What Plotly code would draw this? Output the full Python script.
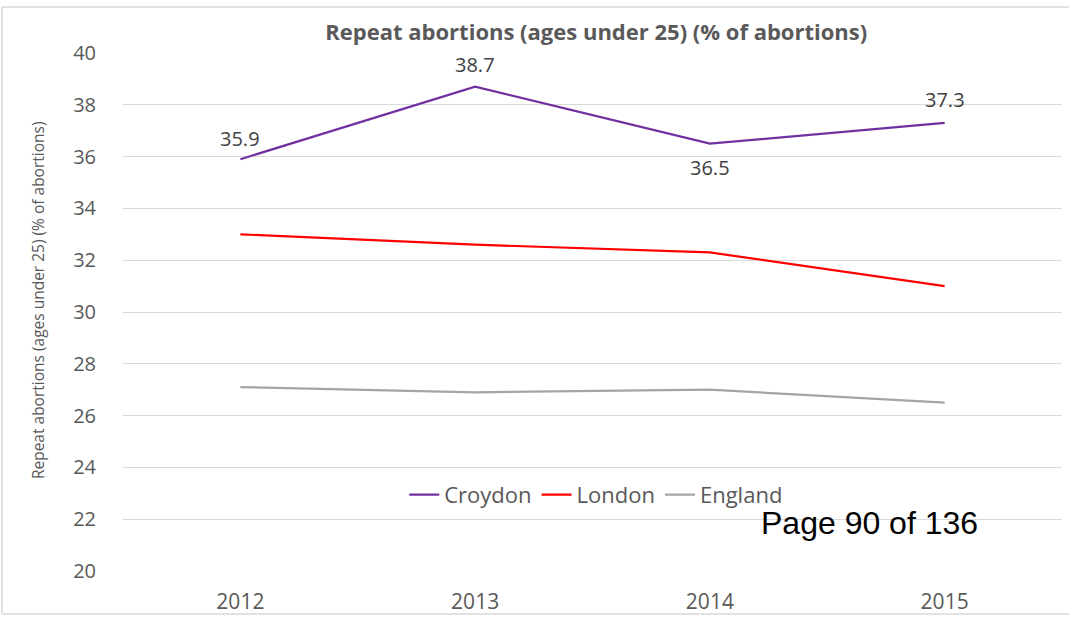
import plotly.graph_objects as go

years = [2012, 2013, 2014, 2015]
year_labels = ["2012", "2013", "2014", "2015"]
croydon = [35.9, 38.7, 36.5, 37.3]
london = [33.0, 32.6, 32.3, 31.0]
england = [27.1, 26.9, 27.0, 26.5]
croydon_label_shift = [21, 22, -24, 23]

fig = go.Figure()
fig.add_trace(go.Scatter(
    x=years, y=croydon, name="Croydon", mode="lines",
    line=dict(color="#7030a0", width=2.2),
))
fig.add_trace(go.Scatter(
    x=years, y=london, name="London", mode="lines",
    line=dict(color="#ff0000", width=2.2),
))
fig.add_trace(go.Scatter(
    x=years, y=england, name="England", mode="lines",
    line=dict(color="#a5a5a5", width=2.2),
))

annotations = [
    dict(x=yr, y=v, xref="x", yref="y", text=f"{v:.1f}", showarrow=False,
         yshift=s, font=dict(family="Open Sans", size=20, color="#404040"))
    for yr, v, s in zip(years, croydon, croydon_label_shift)
]
annotations.append(dict(text="Page 90 of 136", xref="paper", yref="paper",
                        x=0.677, xanchor="left", y=0.0927, yanchor="middle", showarrow=False,
                        font=dict(family="Liberation Sans, Arial", size=32, color="black")))
annotations.append(dict(text="Repeat abortions (ages under 25) (% of abortions)", xref="paper", yref="paper",
                        x=-0.0905, xanchor="center", y=0.523, yanchor="middle", textangle=-90,
                        showarrow=False, font=dict(family="Open Sans", size=15.5, color="#595959")))

border = dict(color="#d9d9d9", width=1.5)
fig.update_layout(
    width=1069, height=631,
    margin=dict(l=123, r=7, t=53, b=60),
    paper_bgcolor="white", plot_bgcolor="white",
    title=dict(text="<b>Repeat abortions (ages under 25) (% of abortions)</b>",
               x=0.504, xref="paper", xanchor="center", y=0.949, yref="container", yanchor="middle",
               font=dict(family="Open Sans", size=22, color="#595959")),
    showlegend=True,
    legend=dict(orientation="h", x=0.504, xanchor="center", y=0.147, yanchor="middle",
                font=dict(family="Open Sans", size=22, color="#595959"),
                bgcolor="rgba(0,0,0,0)", itemwidth=30),
    xaxis=dict(range=[2011.5, 2015.5], tickvals=years, ticktext=year_labels,
               showgrid=False, zeroline=False, showline=False,
               tickfont=dict(family="Open Sans", size=21, color="#595959"),
               ticks="", ticklabelstandoff=16),
    yaxis=dict(range=[20, 40], dtick=2, showgrid=True, gridcolor="#d9d9d9", gridwidth=1,
               zeroline=False, showline=False,
               tickfont=dict(family="Open Sans", size=20, color="#595959"),
               ticks="", ticklabelstandoff=26),
    annotations=annotations,
    shapes=[
        dict(type="line", xref="paper", yref="paper", x0=-0.1289, x1=-0.1289, y0=-0.083, y1=1.0888, line=border),
        dict(type="line", xref="paper", yref="paper", x0=-0.1289, x1=1.0075, y0=1.0888, y1=1.0888, line=border),
        dict(type="line", xref="paper", yref="paper", x0=-0.1289, x1=1.0075, y0=-0.083, y1=-0.083, line=border),
    ],
)

fig.write_html("out.html", config={"displayModeBar": False},
               post_script="document.body.style.margin='0';")
